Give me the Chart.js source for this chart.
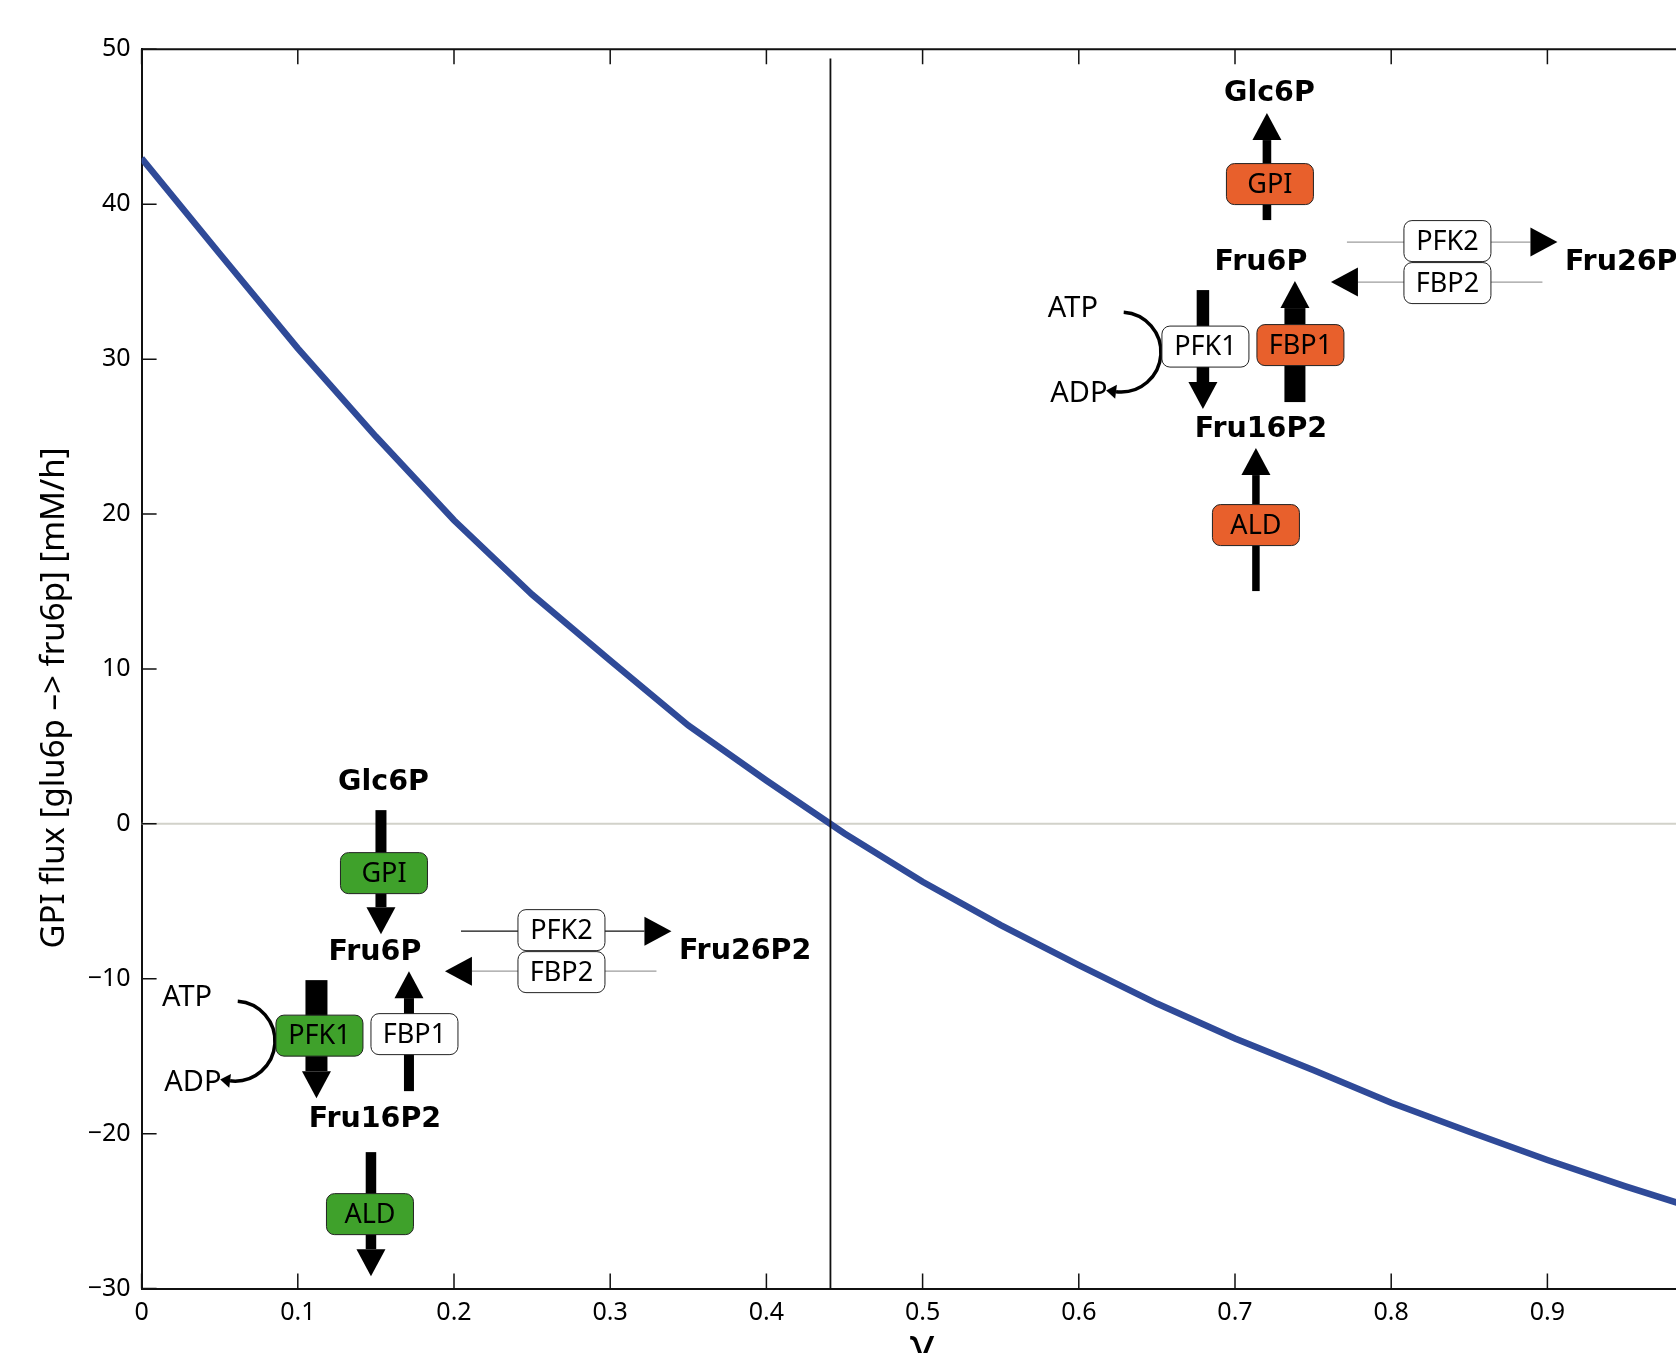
<!DOCTYPE html>
<html>
<head>
<meta charset="utf-8">
<title>GPI flux vs gamma</title>
<script src="https://cdn.jsdelivr.net/npm/chart.js@4.4.1/dist/chart.umd.min.js"></script>
<style>
  html, body { margin: 0; padding: 0; background: #fff; overflow: hidden; }
  #wrap { position: relative; width: 1676px; height: 1353px; overflow: hidden; }
  #fluxChart { position: absolute; left: 0; top: 0; }
</style>
</head>
<body>
<div id="wrap"><canvas id="fluxChart" width="1720" height="1400"></canvas></div>
<script>
// values
const gamma = [0, 0.05, 0.1, 0.15, 0.2, 0.25, 0.3, 0.35, 0.4, 0.45, 0.5,
               0.55, 0.6, 0.65, 0.7, 0.75, 0.8, 0.85, 0.9, 0.95, 1.0];
const gpiFlux = [42.96, 36.8, 30.7, 25.0, 19.6, 14.8, 10.55, 6.35, 2.8, -0.62, -3.74,
                 -6.53, -9.12, -11.6, -13.85, -15.89, -18.0, -19.88, -21.7, -23.4, -25.0];
const xTickValues = [0, 0.1, 0.2, 0.3, 0.4, 0.5, 0.6, 0.7, 0.8, 0.9, 1.0];
const yTickValues = [-30, -20, -10, 0, 10, 20, 30, 40, 50];
const switchGamma = 0.441;   // flux changes sign here
const yTitle = 'GPI flux [glu6p –> fru6p] [mM/h]';

const ORANGE = '#e8602c';
const GREEN = '#3fa12b';
const WHITE = '#ffffff';

// shared pathway layout, pixel offsets from the Fru6P label
const LAYOUT = {
    boxW: 87, boxH: 41,
    boxes: { GPI: [9, -79], PFK2: [186.5, -22], FBP2: [186.5, 20], PFK1: [-55.5, 83.5], FBP1: [39.5, 82], ALD: [-5, 262] },
    metabolites: { Glc6P: [8.5, -169.5], Fru6P: [0, 0], Fru16P2: [0, 167] },
    fru26: [304, -0.5],
    atp: [-188, 45.5], adp: [-182, 130.5],
    arc: { cx: -140, cy: 89, r: 40 },
    pfk2: { from: 86, tip: 296.5, y: -21 },
    fbp2: { from: 281.5, tip: 70, y: 19 }
};

// glycolytic direction (gamma < switch) and gluconeogenic direction (gamma > switch)
const pathwayLow = {
    anchor: { x: 0.1494, y: -8.28 },
    fill: { GPI: GREEN, PFK2: WHITE, FBP2: WHITE, PFK1: GREEN, FBP1: WHITE, ALD: GREEN },
    arrows: [
        { x: 6, tail: -142, tip: -18, w: 11 },
        { x: -58.5, tail: 28, tip: 146, w: 22 },
        { x: 34, tail: 139, tip: 19, w: 10 },
        { x: -4, tail: 200, tip: 324, w: 10.5 }
    ],
    pfk2Color: '#111', fbp2Color: '#9c9c9c'
};
const pathwayHigh = {
    anchor: { x: 0.7166, y: 36.2 },
    fill: { GPI: ORANGE, PFK2: WHITE, FBP2: WHITE, PFK1: WHITE, FBP1: ORANGE, ALD: ORANGE },
    arrows: [
        { x: 6, tail: -43, tip: -150, w: 8.6 },
        { x: -58, tail: 27, tip: 146, w: 12.5 },
        { x: 34, tail: 139, tip: 18, w: 21 },
        { x: -5, tail: 328, tip: 185, w: 7.5 }
    ],
    pfk2Color: '#9c9c9c', fbp2Color: '#9c9c9c'
};

function roundBox(ctx, x, y, w, h, r) {
    ctx.beginPath();
    ctx.moveTo(x + r, y);
    ctx.arcTo(x + w, y, x + w, y + h, r);
    ctx.arcTo(x + w, y + h, x, y + h, r);
    ctx.arcTo(x, y + h, x, y, r);
    ctx.arcTo(x, y, x + w, y, r);
    ctx.closePath();
}

function arrowV(ctx, x, tail, tip, w) {
    const dir = tip < tail ? -1 : 1;
    const base = tip - dir * 27;
    ctx.fillStyle = '#000';
    ctx.fillRect(x - w / 2, Math.min(tail, base), w, Math.abs(base - tail));
    ctx.beginPath();
    ctx.moveTo(x - 14.5, base);
    ctx.lineTo(x + 14.5, base);
    ctx.lineTo(x, tip);
    ctx.closePath();
    ctx.fill();
}

function arrowH(ctx, from, tip, y, color) {
    const dir = tip > from ? 1 : -1;
    const base = tip - dir * 27;
    ctx.strokeStyle = color;
    ctx.lineWidth = 1.3;
    ctx.beginPath();
    ctx.moveTo(from, y);
    ctx.lineTo(base, y);
    ctx.stroke();
    ctx.fillStyle = '#000';
    ctx.beginPath();
    ctx.moveTo(base, y - 14.5);
    ctx.lineTo(base, y + 14.5);
    ctx.lineTo(tip, y);
    ctx.closePath();
    ctx.fill();
}

function drawPathway(chart, p) {
    const { ctx, scales: { x, y } } = chart;
    const ax = x.getPixelForValue(p.anchor.x);
    const ay = y.getPixelForValue(p.anchor.y);
    const L = LAYOUT;
    ctx.save();

    p.arrows.forEach(a => arrowV(ctx, ax + a.x, ay + a.tail, ay + a.tip, a.w));
    arrowH(ctx, ax + L.pfk2.from, ax + L.pfk2.tip, ay + L.pfk2.y, p.pfk2Color);
    arrowH(ctx, ax + L.fbp2.from, ax + L.fbp2.tip, ay + L.fbp2.y, p.fbp2Color);

    // ATP -> ADP side reaction
    const cx = ax + L.arc.cx, cy = ay + L.arc.cy, r = L.arc.r;
    const a0 = -86 * Math.PI / 180, a1 = 97 * Math.PI / 180;
    ctx.strokeStyle = '#000';
    ctx.lineWidth = 3.5;
    ctx.beginPath();
    ctx.arc(cx, cy, r, a0, a1);
    ctx.stroke();
    const ex = cx + r * Math.cos(a1), ey = cy + r * Math.sin(a1);
    const tx = -Math.sin(a1), ty = Math.cos(a1);
    ctx.fillStyle = '#000';
    ctx.beginPath();
    ctx.moveTo(ex + tx * 10, ey + ty * 10);
    ctx.lineTo(ex - ty * 7, ey + tx * 7);
    ctx.lineTo(ex + ty * 7, ey - tx * 7);
    ctx.closePath();
    ctx.fill();

    // enzyme boxes
    ctx.font = '27px "Noto Sans"';
    ctx.textAlign = 'center';
    ctx.textBaseline = 'middle';
    Object.entries(L.boxes).forEach(([name, [bx, by]]) => {
        const left = ax + bx - L.boxW / 2, top = ay + by - L.boxH / 2;
        roundBox(ctx, left, top, L.boxW, L.boxH, 8);
        ctx.fillStyle = p.fill[name];
        ctx.fill();
        ctx.strokeStyle = '#222';
        ctx.lineWidth = 1;
        ctx.stroke();
        ctx.fillStyle = '#000';
        ctx.fillText(name, ax + bx, ay + by + 1);
    });

    // metabolites
    ctx.font = 'bold 28.5px "DejaVu Sans"';
    Object.entries(L.metabolites).forEach(([name, [mx, my]]) => {
        ctx.fillText(name, ax + mx, ay + my);
    });
    ctx.textAlign = 'left';
    ctx.fillText('Fru26P2', ax + L.fru26[0], ay + L.fru26[1]);

    ctx.font = '29px "Noto Sans"';
    ctx.textAlign = 'center';
    ctx.fillText('ATP', ax + L.atp[0], ay + L.atp[1]);
    ctx.fillText('ADP', ax + L.adp[0], ay + L.adp[1]);
    ctx.restore();
}

const framePlugin = {
    id: 'frame',
    beforeDatasetsDraw(chart) {
        const { ctx, chartArea: area, scales: { y } } = chart;
        const y0 = y.getPixelForValue(0);
        ctx.save();
        ctx.strokeStyle = '#d2d2ca';
        ctx.lineWidth = 2;
        ctx.beginPath();
        ctx.moveTo(area.left, y0);
        ctx.lineTo(area.right, y0);
        ctx.stroke();
        ctx.restore();
    },
    afterDatasetsDraw(chart) {
        const { ctx, chartArea: area, scales: { x, y } } = chart;
        ctx.save();
        // switch point
        const xs = x.getPixelForValue(switchGamma);
        ctx.strokeStyle = '#111';
        ctx.lineWidth = 1.8;
        ctx.beginPath();
        ctx.moveTo(xs, y.getPixelForValue(49.4));
        ctx.lineTo(xs, area.bottom);
        ctx.stroke();

        // top and right edges of the box
        ctx.lineWidth = 2;
        ctx.beginPath();
        ctx.moveTo(area.left, area.top);
        ctx.lineTo(area.right, area.top);
        ctx.lineTo(area.right, area.bottom);
        ctx.stroke();

        // inward ticks
        ctx.lineWidth = 1.5;
        ctx.beginPath();
        x.ticks.forEach(t => {
            const px = x.getPixelForValue(t.value);
            ctx.moveTo(px, area.bottom); ctx.lineTo(px, area.bottom - 15);
            ctx.moveTo(px, area.top); ctx.lineTo(px, area.top + 15);
        });
        y.ticks.forEach(t => {
            const py = y.getPixelForValue(t.value);
            ctx.moveTo(area.left, py); ctx.lineTo(area.left + 15, py);
            ctx.moveTo(area.right, py); ctx.lineTo(area.right - 15, py);
        });
        ctx.stroke();
        ctx.restore();

        drawPathway(chart, pathwayLow);
        drawPathway(chart, pathwayHigh);
    },
    afterDraw(chart) {
        const { ctx, chartArea: area } = chart;
        ctx.save();
        ctx.translate(area.left - 87, (area.top + area.bottom) / 2 + 29);
        ctx.rotate(-Math.PI / 2);
        ctx.font = '33px "Noto Sans"';
        ctx.fillStyle = '#000';
        ctx.textAlign = 'center';
        ctx.textBaseline = 'middle';
        ctx.fillText(yTitle, 0, 0);
        ctx.restore();
    }
};

Chart.defaults.font.family = '"Noto Sans", sans-serif';
Chart.defaults.color = '#000';

new Chart(document.getElementById('fluxChart'), {
    type: 'line',
    data: {
        datasets: [{
            label: 'GPI flux',
            data: gamma.map((g, i) => ({ x: g, y: gpiFlux[i] })),
            borderColor: '#2f4a98',
            borderWidth: 6.5,
            borderCapStyle: 'butt',
            pointRadius: 0,
            tension: 0,
            fill: false
        }]
    },
    options: {
        responsive: false,
        animation: false,
        layout: { padding: { left: 0, top: 49.3, right: 16.4, bottom: 0 } },
        plugins: {
            legend: { display: false },
            tooltip: { enabled: false }
        },
        scales: {
            x: {
                type: 'linear',
                min: 0,
                max: 1,
                afterBuildTicks: s => { s.ticks = xTickValues.map(v => ({ value: v })); },
                afterFit: s => { s.height = 111.4; },
                grid: { display: true, drawOnChartArea: false, drawTicks: false },
                border: { display: true, color: '#111', width: 2 },
                ticks: {
                    padding: 9,
                    maxRotation: 0,
                    autoSkip: false,
                    font: { size: 25 },
                    callback: v => String(+v.toFixed(1))
                },
                title: {
                    display: true,
                    text: 'γ',
                    font: { family: '"DejaVu Sans"', size: 44 },
                    padding: { top: 0, bottom: 25 }
                }
            },
            y: {
                type: 'linear',
                min: -30,
                max: 50,
                afterBuildTicks: s => { s.ticks = yTickValues.map(v => ({ value: v })); },
                afterFit: s => { s.width = 141.6; },
                grid: { display: true, drawOnChartArea: false, drawTicks: false },
                border: { display: true, color: '#111', width: 2 },
                ticks: {
                    padding: 11,
                    font: { size: 25 },
                    callback: v => String(v).replace('-', '\u2212')
                }
            }
        }
    },
    plugins: [framePlugin]
});
</script>
</body>
</html>
